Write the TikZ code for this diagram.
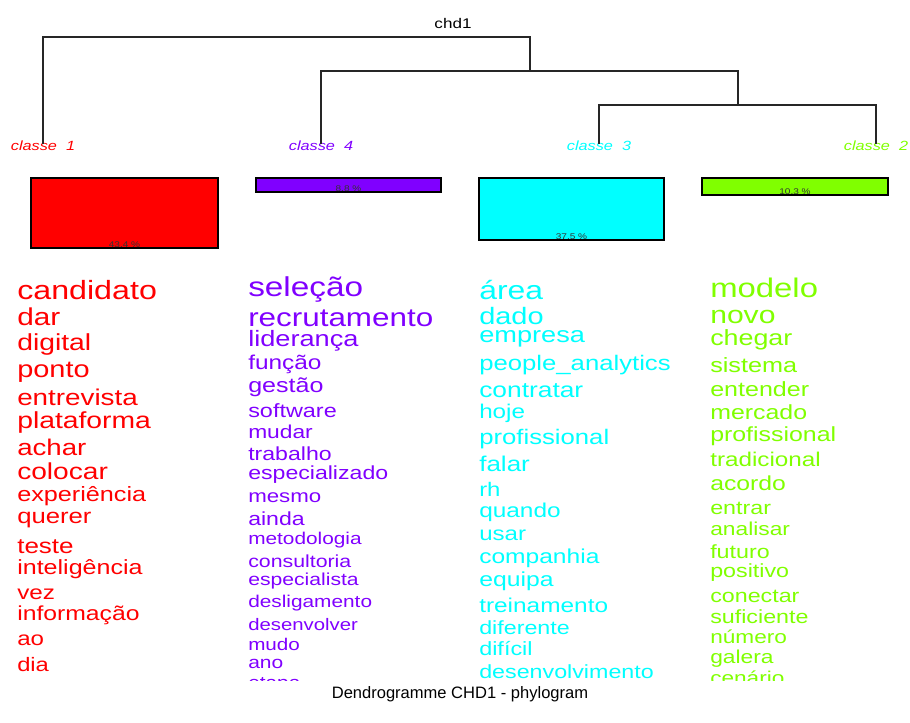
\documentclass[tikz,border=0pt]{standalone}
\usepackage{fontspec}
\setmainfont{Liberation Sans}
\newfontfamily\wordfont[FakeStretch=1.22]{Liberation Sans}
\usepackage{tikz}
\definecolor{cla}{HTML}{FF0000}
\definecolor{clb}{HTML}{80FF00}
\definecolor{clc}{HTML}{00FFFF}
\definecolor{cld}{HTML}{8000FF}

\begin{document}
\begin{tikzpicture}[x=0.75pt,y=-0.75pt,
  word/.style={anchor=base west, inner sep=0pt, font=\wordfont\fontsize{#1pt}{#1pt}\selectfont},
  leaf/.style={anchor=base, inner sep=0pt, font=\wordfont\itshape\fontsize{10pt}{10pt}\selectfont},
  pct/.style={anchor=base, inner sep=0pt, black!80, font=\wordfont\fontsize{6.2pt}{6.2pt}\selectfont},
  branch/.style={line width=0.8pt, black!85},
  bar/.style={draw=black, line width=0.8pt}]
\useasboundingbox (0,0) rectangle (910,722);
% tree
\node[anchor=base, inner sep=0pt, font=\wordfont\fontsize{10.5pt}{10.5pt}\selectfont] (root) at (453,28) {chd1};
\node[leaf, cla] (k1) at (43,150) {classe\ \ 1};
\node[leaf, cld] (k4) at (321,150) {classe\ \ 4};
\node[leaf, clc] (k3) at (599,150) {classe\ \ 3};
\node[leaf, clb] (k2) at (876,150) {classe\ \ 2};
\coordinate (n1) at (530,37);
\coordinate (n2) at (738,71);
\coordinate (n3) at (738,105);
\draw[branch] (k1.north) ++(0,4) |- (n1) -- (530,71);
\draw[branch] (k4.north) ++(0,4) |- (n2) -- (n3);
\draw[branch] (k3.north) ++(0,4) |- (n3);
\draw[branch] (k2.north) ++(0,4) |- (n3);
% bars
\draw[bar, fill=cla] (31,178) rectangle (218,248);
\draw[bar, fill=cld] (256,178) rectangle (441,192);
\draw[bar, fill=clc] (479,178) rectangle (664,240);
\draw[bar, fill=clb] (702,178) rectangle (888,195);
\node[pct] (p1) at (124.5,247) {43.4 \%};
\node[pct] (p4) at (348.5,191) {8.8 \%};
\node[pct] (p3) at (571.5,239) {37.5 \%};
\node[pct] (p2) at (795,194) {10.3 \%};
% words
\begin{scope}
\clip (0,260) rectangle (910,680);
% classe 1
\node[word=19.8, cla] (r1) at (17,299) {candidato};
\node[word=18.3, cla] (r2) at (17,325) {dar};
\node[word=17.4, cla] (r3) at (17,350) {digital};
\node[word=17.8, cla] (r4) at (17,377) {ponto};
\node[word=17.1, cla] (r5) at (17,405) {entrevista};
\node[word=17.4, cla] (r6) at (17,428) {plataforma};
\node[word=17.0, cla] (r7) at (17,455) {achar};
\node[word=17.3, cla] (r8) at (17,479) {colocar};
\node[word=15.5, cla] (r9) at (17,501) {experiência};
\node[word=15.8, cla] (r10) at (17,523) {querer};
\node[word=16.0, cla] (r11) at (17,553) {teste};
\node[word=15.4, cla] (r12) at (17,574) {inteligência};
\node[word=14.9, cla] (r13) at (17,599) {vez};
\node[word=15.2, cla] (r14) at (17,620) {informação};
\node[word=14.8, cla] (r15) at (17,645) {ao};
\node[word=14.6, cla] (r16) at (17,671) {dia};
% classe 4
\node[word=20.5, cld] (v1) at (248,296) {seleção};
\node[word=19.3, cld] (v2) at (248,326) {recrutamento};
\node[word=16.7, cld] (v3) at (248,346) {liderança};
\node[word=15.0, cld] (v4) at (248,369) {função};
\node[word=15.4, cld] (v5) at (248,392) {gestão};
\node[word=14.4, cld] (v6) at (248,417) {software};
\node[word=14.0, cld] (v7) at (248,438) {mudar};
\node[word=14.2, cld] (v8) at (248,460) {trabalho};
\node[word=14.2, cld] (v9) at (248,479) {especializado};
\node[word=13.7, cld] (v10) at (248,502) {mesmo};
\node[word=14.2, cld] (v11) at (248,525) {ainda};
\node[word=12.8, cld] (v12) at (248,544) {metodologia};
\node[word=13.1, cld] (v13) at (248,567) {consultoria};
\node[word=13.0, cld] (v14) at (248,585) {especialista};
\node[word=12.8, cld] (v15) at (248,607) {desligamento};
\node[word=12.5, cld] (v16) at (248,630) {desenvolver};
\node[word=12.7, cld] (v17) at (248,650) {mudo};
\node[word=12.9, cld] (v18) at (248,668) {ano};
\node[word=12.8, cld] (v19) at (248,688) {etapa};
% classe 3
\node[word=19.6, clc] (c1) at (479,299) {área};
\node[word=17.8, clc] (c2) at (479,324) {dado};
\node[word=16.7, clc] (c3) at (479,342) {empresa};
\node[word=15.8, clc] (c4) at (479,370) {people\_analytics};
\node[word=16.2, clc] (c5) at (479,397) {contratar};
\node[word=14.9, clc] (c6) at (479,418) {hoje};
\node[word=15.8, clc] (c7) at (479,444) {profissional};
\node[word=16.0, clc] (c8) at (479,471) {falar};
\node[word=14.7, clc] (c9) at (479,496) {rh};
\node[word=15.0, clc] (c10) at (479,517) {quando};
\node[word=14.8, clc] (c11) at (479,540) {usar};
\node[word=15.1, clc] (c12) at (479,563) {companhia};
\node[word=15.2, clc] (c13) at (479,586) {equipa};
\node[word=15.0, clc] (c14) at (479,612) {treinamento};
\node[word=14.3, clc] (c15) at (479,634) {diferente};
\node[word=14.4, clc] (c16) at (479,655) {difícil};
\node[word=14.3, clc] (c17) at (479,678) {desenvolvimento};
% classe 2
\node[word=20.2, clb] (g1) at (710,297) {modelo};
\node[word=18.5, clb] (g2) at (710,323) {novo};
\node[word=16.5, clb] (g3) at (710,345) {chegar};
\node[word=15.5, clb] (g4) at (710,372) {sistema};
\node[word=15.4, clb] (g5) at (710,396) {entender};
\node[word=15.3, clb] (g6) at (710,419) {mercado};
\node[word=15.3, clb] (g7) at (710,441) {profissional};
\node[word=14.9, clb] (g8) at (710,466) {tradicional};
\node[word=15.2, clb] (g9) at (710,490) {acordo};
\node[word=14.3, clb] (g10) at (710,514) {entrar};
\node[word=14.0, clb] (g11) at (710,535) {analisar};
\node[word=14.3, clb] (g12) at (710,558) {futuro};
\node[word=14.3, clb] (g13) at (710,577) {positivo};
\node[word=14.3, clb] (g14) at (710,602) {conectar};
\node[word=14.3, clb] (g15) at (710,623) {suficiente};
\node[word=13.9, clb] (g16) at (710,643) {número};
\node[word=14.0, clb] (g17) at (710,663) {galera};
\node[word=13.9, clb] (g18) at (710,684) {cenário};
\end{scope}
% title
\node[anchor=base, inner sep=0pt, font=\fontsize{12.4pt}{12.4pt}\selectfont] (title) at (460,698) {Dendrogramme CHD1 - phylogram};
\end{tikzpicture}
\end{document}
